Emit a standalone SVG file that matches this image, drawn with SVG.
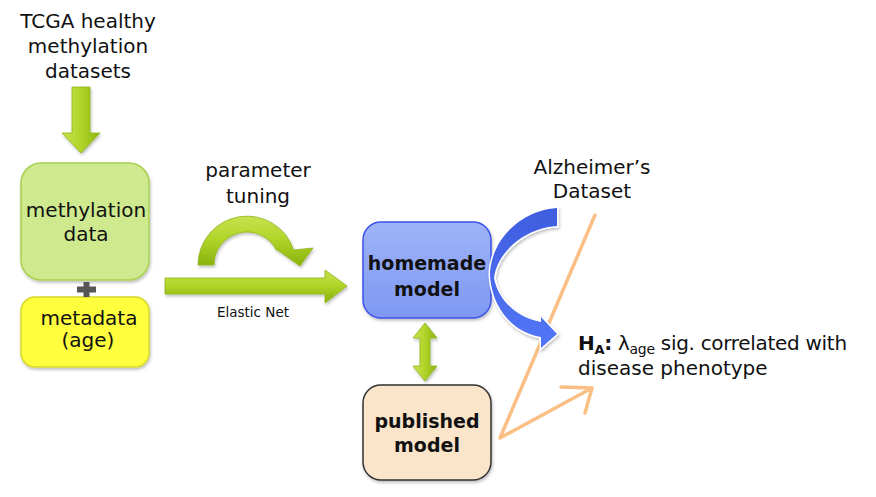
<svg xmlns="http://www.w3.org/2000/svg" width="876" height="497" viewBox="0 0 876 497">
<defs>
<linearGradient id="gH" x1="0" y1="0" x2="1" y2="0"><stop offset="0" stop-color="#c8e24e"/><stop offset="0.45" stop-color="#b4d62c"/><stop offset="1" stop-color="#8cb60e"/></linearGradient>
<linearGradient id="gV" x1="0" y1="0" x2="0" y2="1"><stop offset="0" stop-color="#c8e24e"/><stop offset="0.45" stop-color="#b2d52a"/><stop offset="1" stop-color="#88b20c"/></linearGradient>
<linearGradient id="gBlue" x1="0" y1="0" x2="0" y2="1"><stop offset="0" stop-color="#9fb3f8"/><stop offset="1" stop-color="#7e98f3"/></linearGradient>
<linearGradient id="gArc" x1="0" y1="0" x2="0" y2="1"><stop offset="0" stop-color="#3f5ddf"/><stop offset="1" stop-color="#5276f7"/></linearGradient>
<filter id="sh" x="-20%" y="-20%" width="140%" height="140%"><feDropShadow dx="1" dy="2" stdDeviation="1.5" flood-color="#000" flood-opacity="0.25"/></filter>
</defs>
<style>
text{font-family:"DejaVu Sans","Liberation Sans",sans-serif;fill:#111;}
.t20{font-size:20px;}
.b{font-size:19px;font-weight:bold;}
.gar{stroke:#8fb51a;stroke-width:0.8;filter:url(#sh);}
.or{fill:none;stroke:#f9bf85;stroke-width:3.5;stroke-linecap:round;stroke-linejoin:round;}
</style>
<rect width="876" height="497" fill="#fff"/>

<g id="label-tcga">
<text class="t20" x="88" y="28" text-anchor="middle">TCGA healthy</text>
<text class="t20" x="88" y="53" text-anchor="middle">methylation</text>
<text class="t20" x="88" y="78" text-anchor="middle">datasets</text>
</g>

<g id="node-methylation">
<rect x="21" y="163" width="128" height="117" rx="20" fill="#cfe98e" stroke="#a9d050" stroke-width="1.5" filter="url(#sh)"/>
<text class="t20" x="86" y="217" text-anchor="middle">methylation</text>
<text class="t20" x="86" y="241" text-anchor="middle">data</text>
</g>

<g id="node-metadata">
<rect x="21" y="297" width="128" height="70" rx="14" fill="#ffff3c" stroke="#d8d82c" stroke-width="1.5" filter="url(#sh)"/>
<text class="t20" x="89" y="325" text-anchor="middle">metadata</text>
<text class="t20" x="88" y="347" text-anchor="middle">(age)</text>
</g>

<g id="plus">
<path d="M77 286.5 H96 V292.5 H77 Z M83.5 282 H89.5 V297 H83.5 Z" fill="#555"/>
</g>

<g id="label-param">
<text class="t20" x="258" y="177" text-anchor="middle">parameter</text>
<text class="t20" x="258" y="203" text-anchor="middle">tuning</text>
</g>

<g id="node-homemade">
<rect x="363" y="222" width="128" height="96" rx="18" fill="url(#gBlue)" stroke="#3b52e6" stroke-width="1.5" filter="url(#sh)"/>
<text class="b" x="427" y="270" text-anchor="middle">homemade</text>
<text class="b" x="427" y="296" text-anchor="middle">model</text>
</g>

<g id="node-published">
<rect x="363" y="385" width="128" height="95" rx="18" fill="#fae5cb" stroke="#333" stroke-width="1.5" filter="url(#sh)"/>
<text class="b" x="427" y="428" text-anchor="middle">published</text>
<text class="b" x="427" y="452" text-anchor="middle">model</text>
</g>

<g id="label-alz">
<text class="t20" x="592" y="174" text-anchor="middle">Alzheimer’s</text>
<text class="t20" x="592" y="198" text-anchor="middle">Dataset</text>
</g>

<g id="label-ha">
<text class="t20" x="578" y="350" letter-spacing="-0.3"><tspan font-weight="bold">H</tspan><tspan font-weight="bold" font-size="13px" dy="4">A</tspan><tspan font-weight="bold" dy="-4">:</tspan> λ<tspan font-size="14px" dy="4">age</tspan><tspan dy="-4"> sig. correlated with</tspan></text>
<text class="t20" x="578" y="375">disease phenotype</text>
</g>

<g id="connectors">
<path class="gar" fill="url(#gH)" d="M72 87 H90 V133 H100 L81 153 L62 133 H72 Z"/>
<path class="gar" fill="url(#gV)" d="M198 265 A49 49 0 0 1 293.6 250 L313 248 L300 266 L279 251 L276.4 250 A33 33 0 0 0 214 265 Z"/>
<path class="gar" fill="url(#gV)" d="M165 278 H325 V270 L347 286 L325 303 V294 H165 Z"/>
<path class="gar" fill="url(#gH)" d="M425 323 L437 338 H430 V366 H437 L425 381 L413 366 H420 V338 H413 Z"/>
<text x="253" y="317" text-anchor="middle" font-size="13.5px">Elastic Net</text>
<path class="or" d="M595 215 L500 438 L592 388"/>
<path class="or" d="M561 387 L592 388 L585 413"/>
<path d="M557 208 C525 210 493 235 490 272 C490 305 512 333 541 337 L541 348 L557 334 L541 317 L541 322 C517 318 498 300 494 278 C497 252 525 228 557 226 Z" fill="url(#gArc)" stroke="#fff" stroke-width="3" paint-order="stroke" filter="url(#sh)"/>
</g>
</svg>
